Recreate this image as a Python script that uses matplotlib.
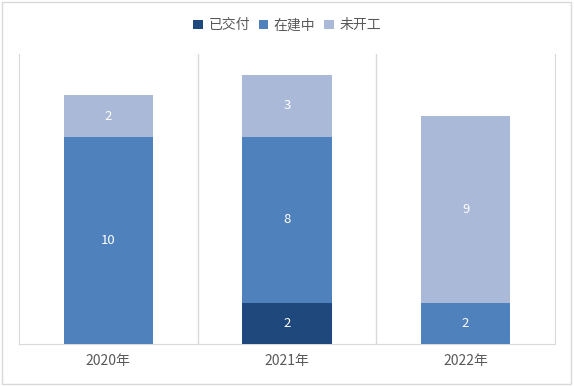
import matplotlib
matplotlib.use('Agg')
import matplotlib.pyplot as plt
from matplotlib.patches import Rectangle

plt.rcParams['font.family'] = ['Noto Sans CJK SC', 'DejaVu Sans']

# data
years = ['2020年', '2021年', '2022年']
delivered = [0, 2, 0]
building = [10, 8, 2]
not_started = [2, 3, 9]
series_names = ['已交付', '在建中', '未开工']
colors = ['#1f497d', '#4f81bd', '#aab9d8']

fig = plt.figure(figsize=(5.74, 3.86), dpi=100)
ax = fig.add_axes([19 / 574, 42 / 386, 536 / 574, 290 / 386])

x = range(len(years))
bottom = [0] * len(years)
for vals, name, c in zip([delivered, building, not_started], series_names, colors):
    bars = ax.bar(x, vals, width=0.5, bottom=bottom, color=c, label=name, zorder=3)
    for b, v, btm in zip(bars, vals, bottom):
        if v > 0:
            ax.text(b.get_x() + b.get_width() / 2, btm + v / 2, str(v),
                    ha='center', va='center', color='white', fontsize=9.5, zorder=4)
    bottom = [a + b for a, b in zip(bottom, vals)]

ax.set_xlim(-0.5, 2.5)
ax.set_ylim(0, 14)
ax.set_yticks([])
ax.set_xticks(list(x))
ax.set_xticklabels(years, fontsize=10, color='#595959')
ax.set_xticks([0.5, 1.5], minor=True)
ax.tick_params(axis='x', which='both', length=0, pad=7)
ax.grid(axis='x', which='minor', color='#d9d9d9', linewidth=1, zorder=0)
for s in ['left', 'right', 'bottom']:
    ax.spines[s].set_color('#d9d9d9')
ax.spines['top'].set_visible(False)

leg = fig.legend(loc='upper center', bbox_to_anchor=(0.5, 0.985), ncol=3, frameon=False,
                 fontsize=10, handlelength=0.7, handleheight=0.7, handletextpad=0.4,
                 columnspacing=0.6)
for t in leg.get_texts():
    t.set_color('#595959')

fig.patches.append(Rectangle((2 / 574, 2 / 386), 569 / 574, 382 / 386, transform=fig.transFigure,
                             fill=False, edgecolor='#d9d9d9', linewidth=1))

fig.savefig('out.png', dpi=100)
